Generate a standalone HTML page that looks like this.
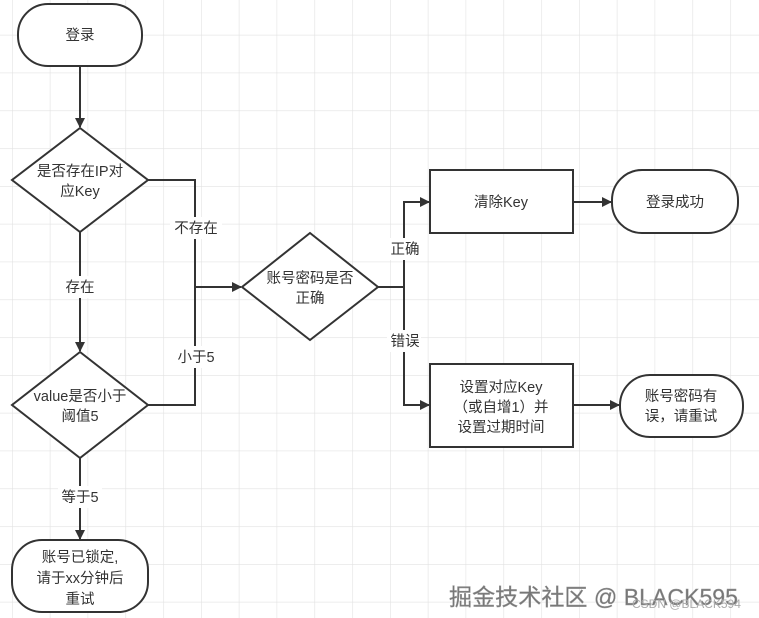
<!DOCTYPE html>
<html><head><meta charset="utf-8"><style>
html,body{margin:0;padding:0;background:#fff;}
svg{display:block;}
text{font-family:"Liberation Sans","Noto Sans CJK SC",sans-serif;font-size:14.5px;fill:#333;}
</style></head><body>
<svg width="759" height="618" viewBox="0 0 759 618" xmlns="http://www.w3.org/2000/svg">
<defs>
<pattern id="g" width="37.8" height="37.8" patternUnits="userSpaceOnUse" x="12" y="-3">
<path d="M0 0H37.8M0 0V37.8" stroke="#e2e2e2" stroke-width="1.2" fill="none"/>
</pattern>
<marker id="a" markerWidth="10" markerHeight="10" refX="9" refY="5" orient="auto" markerUnits="userSpaceOnUse">
<path d="M0 0L10 5L0 10Z" fill="#333"/>
</marker>
</defs>
<rect width="759" height="618" fill="url(#g)"/>
<g stroke="#333" stroke-width="2" fill="#fff">
<rect x="18" y="4" width="124" height="62" rx="30"/>
<path d="M80 128L148 180L80 232L12 180Z"/>
<path d="M80 352L148 405L80 458L12 405Z"/>
<rect x="12" y="540" width="136" height="72" rx="30"/>
<path d="M310 233L378 287L310 340L242 287Z"/>
<rect x="430" y="170" width="143" height="63"/>
<rect x="612" y="170" width="126" height="63" rx="30"/>
<rect x="430" y="364" width="143" height="83"/>
<rect x="620" y="375" width="123" height="62" rx="30"/>
</g>
<g stroke="#333" stroke-width="2" fill="none">
<path d="M80 66V127" marker-end="url(#a)"/>
<path d="M80 232V351" marker-end="url(#a)"/>
<path d="M80 458V539" marker-end="url(#a)"/>
<path d="M148 180H195V405H148"/>
<path d="M195 287H241" marker-end="url(#a)"/>
<path d="M378 287H404V202H429" marker-end="url(#a)"/>
<path d="M404 287V405H429" marker-end="url(#a)"/>
<path d="M573 202H611" marker-end="url(#a)"/>
<path d="M573 405H619" marker-end="url(#a)"/>
</g>
<g text-anchor="middle">
<text x="80" y="40">登录</text>
<text x="80" y="176">是否存在IP对</text>
<text x="80" y="196">应Key</text>
<text x="80" y="401">value是否小于</text>
<text x="80" y="421">阈值5</text>
<text x="80" y="562">账号已锁定,</text>
<text x="80" y="583">请于xx分钟后</text>
<text x="80" y="604">重试</text>
<text x="310" y="283">账号密码是否</text>
<text x="310" y="303">正确</text>
<text x="501" y="207">清除Key</text>
<text x="675" y="207">登录成功</text>
<text x="501" y="392">设置对应Key</text>
<text x="501" y="412">（或自增1）并</text>
<text x="501" y="432">设置过期时间</text>
<text x="681" y="401">账号密码有</text>
<text x="681" y="421">误，请重试</text>
</g>
<g text-anchor="middle">
<rect x="170" y="217" width="52" height="22" fill="#fff"/>
<text x="196" y="233">不存在</text>
<rect x="173" y="346" width="46" height="22" fill="#fff"/>
<text x="196" y="362">小于5</text>
<rect x="62" y="276" width="36" height="22" fill="#fff"/>
<text x="80" y="292">存在</text>
<rect x="58" y="486" width="44" height="22" fill="#fff"/>
<text x="80" y="502">等于5</text>
<rect x="387" y="238" width="34" height="22" fill="#fff"/>
<text x="405" y="254">正确</text>
<rect x="387" y="330" width="34" height="22" fill="#fff"/>
<text x="405" y="346">错误</text>
</g>
<text x="449" y="605" textLength="289" lengthAdjust="spacingAndGlyphs" style="font-size:23px;fill:#777;stroke:#999;stroke-width:0.4">掘金技术社区 @ BLACK595</text>
<text x="632" y="608" style="font-size:12px;fill:#aaa">CSDN @BLACK594</text>
</svg>
</body></html>
